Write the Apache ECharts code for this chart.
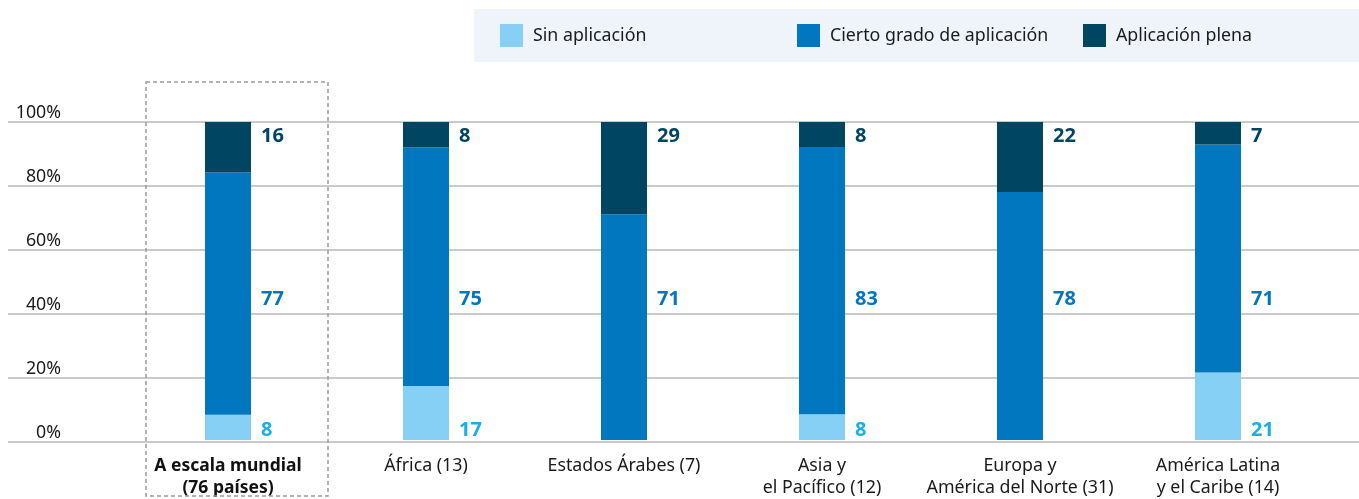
<!DOCTYPE html>
<html><head><meta charset="utf-8">
<script src="https://cdn.jsdelivr.net/npm/echarts@6/dist/echarts.min.js"></script>
<style>html,body{margin:0;padding:0;background:#fff}#c{width:1359px;height:499px}</style>
</head><body><div id="c"></div>
<script>
const categories = ['A escala mundial\n(76 países)', 'África (13)', 'Estados Árabes (7)', 'Asia y\nel Pacífico (12)', 'Europa y\nAmérica del Norte (31)', 'América Latina\ny el Caribe (14)'];
const sinAplicacion = [8, 17, 0, 8, 0, 21];
const ciertoGrado = [77, 75, 71, 83, 78, 71];
const aplicacionPlena = [16, 8, 29, 8, 22, 7];
const seriesNames = ['Sin aplicación', 'Cierto grado de aplicación', 'Aplicación plena'];
const yMin = 0, yMax = 100, yStep = 20; // tick labels: 0%, 20% ... 100%
const MID_LABEL_LEVEL = 45;

const FONT = 'Noto Sans';
const C_LIGHT = '#86CFF5', C_MID = '#0077BF', C_DARK = '#004562';
const L_LIGHT = '#1AAFE6', L_MID = '#0077BF', L_DARK = '#004562';

const totals = categories.map((_, i) => sinAplicacion[i] + ciertoGrado[i] + aplicacionPlena[i]);
const norm = arr => arr.map((v, i) => v / totals[i] * 100);
const nS = norm(sinAplicacion), nM = norm(ciertoGrado), nP = norm(aplicacionPlena);

const rawFmt = raw => p => (raw[p.dataIndex] ? String(raw[p.dataIndex]) : '');
const labelBase = {show: true, fontFamily: FONT, fontWeight: 'bold', fontSize: 20, align: 'left'};

const chart = echarts.init(document.getElementById('c'), null, {renderer: 'canvas'});
const legendCommon = {top: 24, padding: 0, itemWidth: 23, itemHeight: 23, icon: 'rect', selectedMode: false,
  textStyle: {fontFamily: FONT, fontSize: 17.8, color: '#1a1a1a', padding: [0, 0, 0, 5]}};

chart.setOption({
  animation: false,
  grid: [
    {left: 129, right: 42, top: 122, bottom: 57},
    {left: 8, right: 0, top: 122, bottom: 57}
  ],
  legend: [
    Object.assign({data: [seriesNames[0]], left: 500}, legendCommon),
    Object.assign({data: [seriesNames[1]], left: 797}, legendCommon),
    Object.assign({data: [seriesNames[2]], left: 1083}, legendCommon)
  ],
  xAxis: [
    {type: 'category', gridIndex: 0, data: categories,
      axisLine: {show: false}, axisTick: {show: false},
      axisLabel: {interval: 0, margin: 15, fontFamily: FONT, fontSize: 17.8, color: '#1a1a1a', lineHeight: 22,
        formatter: (v, i) => i === 0 ? v.split('\n').map(s => '{b|' + s + '}').join('\n') : v,
        rich: {b: {fontFamily: FONT, fontWeight: 'bold', fontSize: 17.5, color: '#111', lineHeight: 22}}}},
    {type: 'value', gridIndex: 1, show: false, min: 0, max: 1}
  ],
  yAxis: [
    {type: 'value', gridIndex: 0, min: yMin, max: yMax, interval: yStep, show: false},
    {type: 'value', gridIndex: 1, min: yMin, max: yMax, interval: yStep,
      axisLine: {show: false}, axisTick: {show: false},
      splitLine: {lineStyle: {color: '#b9b9b9', width: 1.5}},
      axisLabel: {inside: true, margin: 53, align: 'right', verticalAlign: 'bottom', padding: [0, 0, 0, 0],
        fontFamily: FONT, fontSize: 17.8, color: '#1a1a1a', formatter: '{value}%'}}
  ],
  series: [
    {name: seriesNames[0], type: 'bar', stack: 's', barWidth: 46, itemStyle: {color: C_LIGHT},
      data: nS,
      label: Object.assign({}, labelBase, {color: L_LIGHT, position: ['100%', '100%'], verticalAlign: 'bottom', offset: [10, 0], formatter: rawFmt(sinAplicacion)})},
    {name: seriesNames[1], type: 'bar', stack: 's', barWidth: 46, itemStyle: {color: C_MID},
      data: nM.map((v, i) => ({value: v, label: {position: ['100%', ((nS[i] + v - MID_LABEL_LEVEL) / v * 100) + '%']}})),
      label: Object.assign({}, labelBase, {color: L_MID, verticalAlign: 'middle', offset: [10, 2], formatter: rawFmt(ciertoGrado)})},
    {name: seriesNames[2], type: 'bar', stack: 's', barWidth: 46, itemStyle: {color: C_DARK},
      data: nP,
      label: Object.assign({}, labelBase, {color: L_DARK, position: ['100%', 0], verticalAlign: 'top', offset: [10, 4], formatter: rawFmt(aplicacionPlena)})}
  ],
  graphic: {elements: [
    {id: 'legendBg', type: 'rect', z: 0, shape: {x: 474, y: 9, width: 885, height: 53}, style: {fill: '#EFF4FB'}}
  ]}
});

const p0 = chart.convertToPixel({xAxisIndex: 0, yAxisIndex: 0}, [0, yMax]);
chart.setOption({graphic: {elements: [
  {id: 'legendBg', type: 'rect', z: 0, shape: {x: 474, y: 9, width: 885, height: 53}, style: {fill: '#EFF4FB'}},
  {id: 'worldBox', type: 'rect', z: 10, silent: true,
    shape: {x: p0[0] - 82, y: p0[1] - 40, width: 182, height: 414},
    style: {fill: 'none', stroke: '#9a9a9a', lineWidth: 1.5, lineDash: [4, 3]}}
]}});
</script></body></html>
